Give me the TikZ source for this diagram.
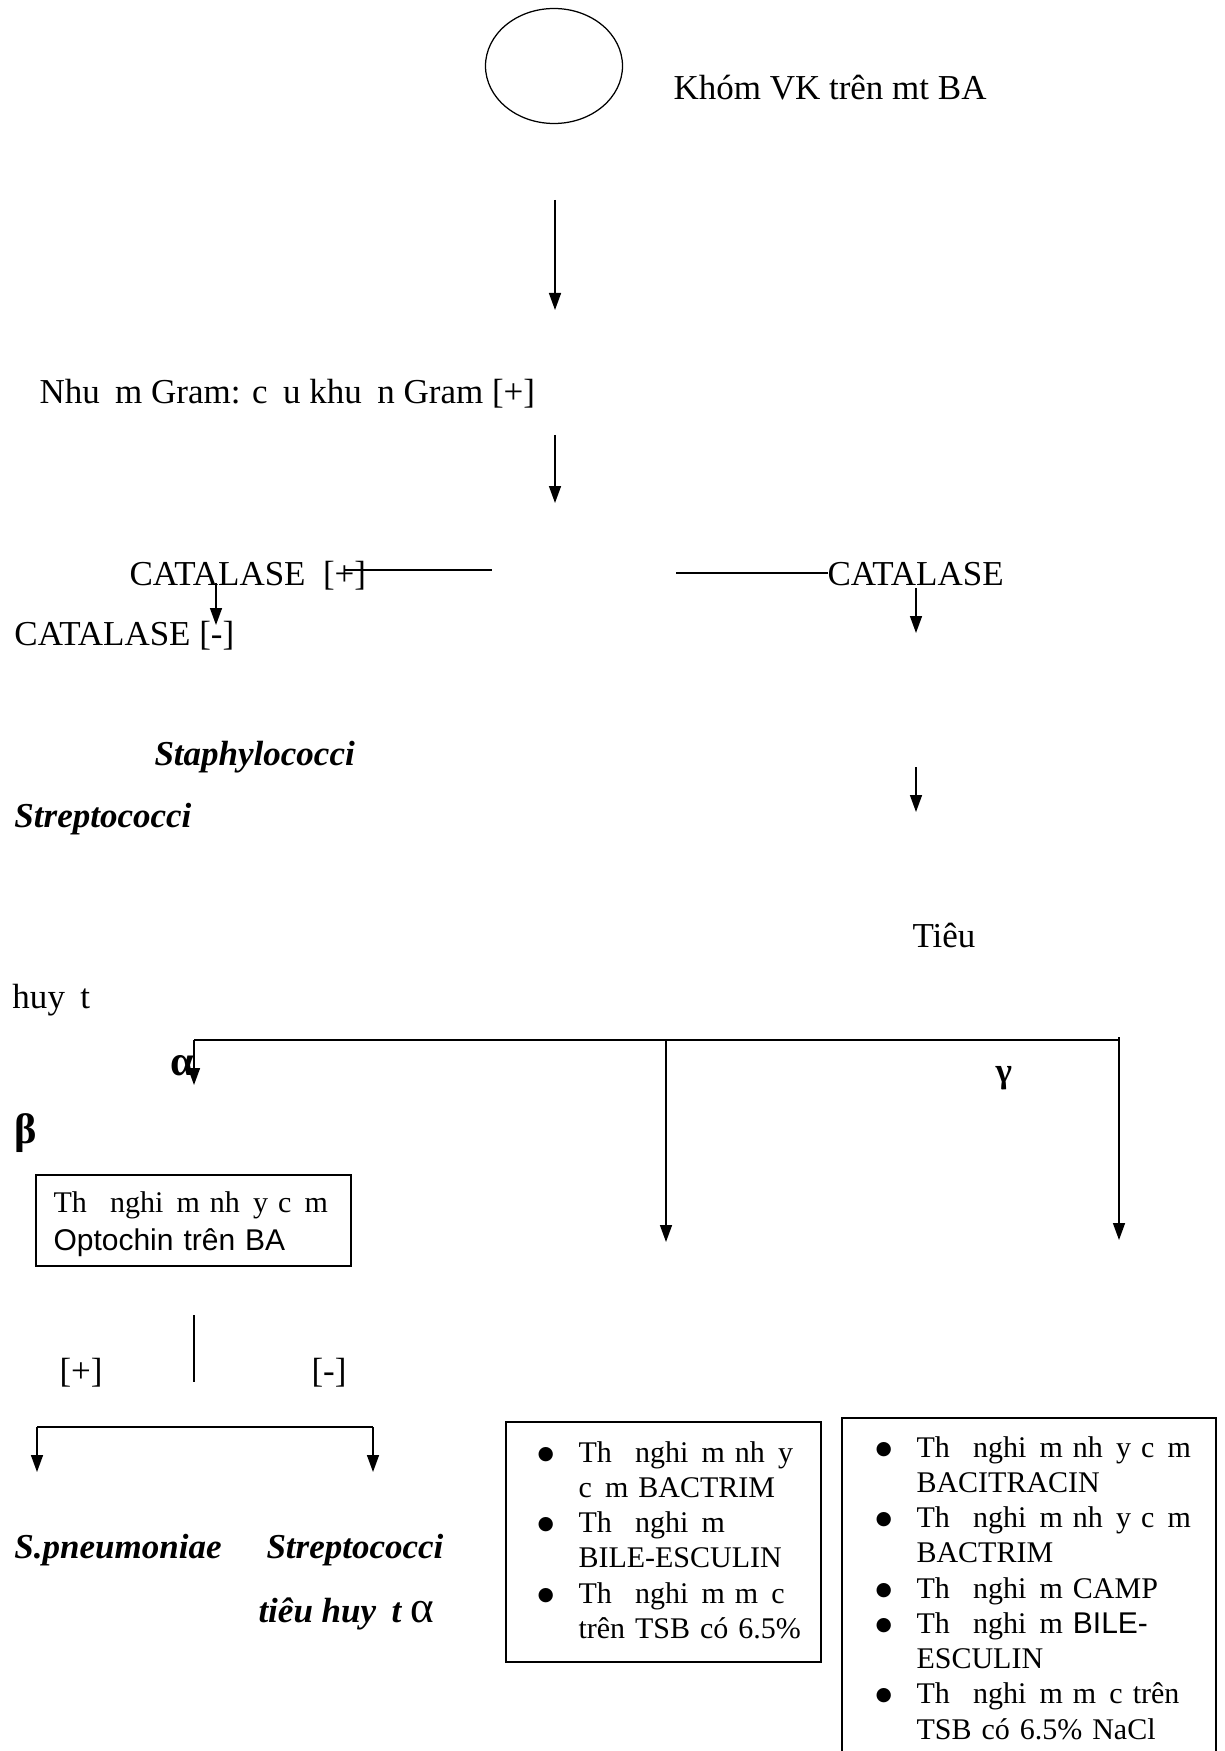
\documentclass[tikz,border=0pt]{standalone}
\usepackage{fontspec}
\setmainfont{Liberation Serif}
\newfontfamily\arialfont{Liberation Sans}
\newfontfamily\dejavu{DejaVu Sans}
\usetikzlibrary{arrows.meta,shapes.geometric}
\newcommand{\miss}{\hspace{0.44em}}
\newcommand{\bul}{\makebox[16.4pt][l]{\raisebox{1.2pt}{\dejavu\fontsize{7.5}{8}\selectfont ●}}}
\newcommand{\nobul}{\hspace*{16.4pt}}

\begin{document}
\begin{tikzpicture}[
      x=0.4pt, y=-0.4pt,
      every node/.style={inner sep=0pt, anchor=base west, font=\fontsize{14}{16}\selectfont},
      species/.style={font=\fontsize{14}{16}\selectfont\bfseries\itshape},
      greek/.style={font=\fontsize{17}{18}\selectfont\bfseries},
      listtext/.style={font=\fontsize{12}{14.1}\selectfont, align=left, text width=108pt},
      panel/.style={draw, line width=0.8pt, anchor=north west},
      arrow/.style={-{Triangle[length=6.8pt, width=4.8pt]}, line width=0.6pt},
      bus/.style={line width=0.9pt}
    ]
    \useasboundingbox (0,0) rectangle (1225,1751);

    % top: colony and Gram stain
    \node[draw, ellipse, anchor=center, line width=0.5pt, minimum width=54.8pt, minimum height=46pt] (colony) at (554,66) {};
    \node (khom) at (673,100) {Khóm VK trên mt BA};
    \node (gram) at (39,404) {Nhu\miss m Gram: c\miss u khu\miss n Gram [+]};

    % catalase split
    \node (catpos) at (129,585) {CATALASE~~[+]};
    \node (catneg) at (14,645) {CATALASE [-]};
    \node (catalase) at (827,585) {CATALASE};
    \node[species] (staph) at (154,765) {Staphylococci};
    \node[species] (strep) at (14,827) {Streptococci};

    % hemolysis
    \node (tieu) at (912,947) {Tiêu};
    \node (huyt) at (12,1008) {huy\miss t};
    \node[greek] (alpha) at (170,1075) {α};
    \node[greek, font=\fontsize{14}{16}\selectfont\bfseries] (gamma) at (995,1082) {γ};
    \node[greek] (beta) at (14,1143) {β};

    % optochin branch
    \node[panel, minimum width=126pt, minimum height=36.4pt] (optobox) at (35,1174) {};
    \node[listtext, text width=112pt, font=\fontsize{12}{15.2}\selectfont] (optotext) at (53,1212) {Th\miss\ nghi\miss m nh\miss y c\miss m\\{\arialfont Optochin trên BA}};
    \node (plus) at (59,1382) {[+]};
    \node (minus) at (311,1382) {[-]};
    \node[species] (spn) at (14,1558) {S.pneumoniae};
    \node[species] (strepalpha) at (266,1558) {Streptococci};
    \node[species] (tieuhuyt) at (258,1622) {tiêu huy\miss t {\upshape\mdseries\fontsize{18}{18}\selectfont α}};

    % test boxes
    \node[panel, minimum width=126pt, minimum height=96pt] (midbox) at (505,1421) {};
    \node[listtext] (midlist) at (537,1462) {\bul Th\miss\ nghi\miss m nh\miss y\\
      \nobul c\miss m BACTRIM\\
      \bul Th\miss\ nghi\miss m\\
      \nobul BILE-ESCULIN\\
      \bul Th\miss\ nghi\miss m m\miss c\\
      \nobul trên TSB có 6.5\%};
    \node[panel, minimum width=149.6pt, minimum height=144pt] (rightbox) at (841,1417) {};
    \node[listtext, text width=130pt] (rightlist) at (875,1457) {\bul Th\miss\ nghi\miss m nh\miss y c\miss m\\
      \nobul BACITRACIN\\
      \bul Th\miss\ nghi\miss m nh\miss y c\miss m\\
      \nobul BACTRIM\\
      \bul Th\miss\ nghi\miss m CAMP\\
      \bul Th\miss\ nghi\miss m {\arialfont BILE-}\\
      \nobul ESCULIN\\
      \bul Th\miss\ nghi\miss m m\miss c trên\\
      \nobul TSB có 6.5\% NaCl};

    % connector ends
    \coordinate (a1top) at (555,200);
    \coordinate (a1tip) at (555,310);
    \coordinate (a2top) at (555,435);
    \coordinate (a2tip) at (555,503);
    \coordinate (lineL1) at (344,570);
    \coordinate (lineL2) at (492,570);
    \coordinate (lineR1) at (676,573);
    \coordinate (lineR2) at (828,573);
    \coordinate (negtop) at (216,583);
    \coordinate (negtip) at (216,625);
    \coordinate (r1top) at (916,588);
    \coordinate (r1tip) at (916,633);
    \coordinate (r2top) at (916,767);
    \coordinate (r2tip) at (916,812);
    \coordinate (busL) at (194,1040);
    \coordinate (busM) at (666,1040);
    \coordinate (busR) at (1119,1040);
    \coordinate (busRtop) at (1119,1037);
    \coordinate (alphatip) at (194,1085);
    \coordinate (midtip) at (666,1242);
    \coordinate (gammatip) at (1119,1240);
    \coordinate (stemtop) at (194,1315);
    \coordinate (stembot) at (194,1382);
    \coordinate (splitL) at (37,1427);
    \coordinate (splitR) at (373,1427);
    \coordinate (spntip) at (37,1472);
    \coordinate (streptip) at (373,1472);

    \draw[arrow] (a1top) -- (a1tip);
    \draw[arrow] (a2top) -- (a2tip);
    \draw[line width=0.6pt] (lineL1) -- (lineL2);
    \draw[line width=0.6pt] (lineR1) -- (lineR2);
    \draw[arrow] (negtop) -- (negtip);
    \draw[arrow] (r1top) -- (r1tip);
    \draw[arrow] (r2top) -- (r2tip);
    \draw[bus] (busL) -- (busR);
    \draw[arrow] (busL) -- (alphatip);
    \draw[arrow] (busM) -- (midtip);
    \draw[arrow] (busRtop) -- (gammatip);
    \draw[line width=0.6pt] (stemtop) -- (stembot);
    \draw[bus] (splitL) -- (splitR);
    \draw[arrow] (splitL) -- (spntip);
    \draw[arrow] (splitR) -- (streptip);
  \end{tikzpicture}
\end{document}
